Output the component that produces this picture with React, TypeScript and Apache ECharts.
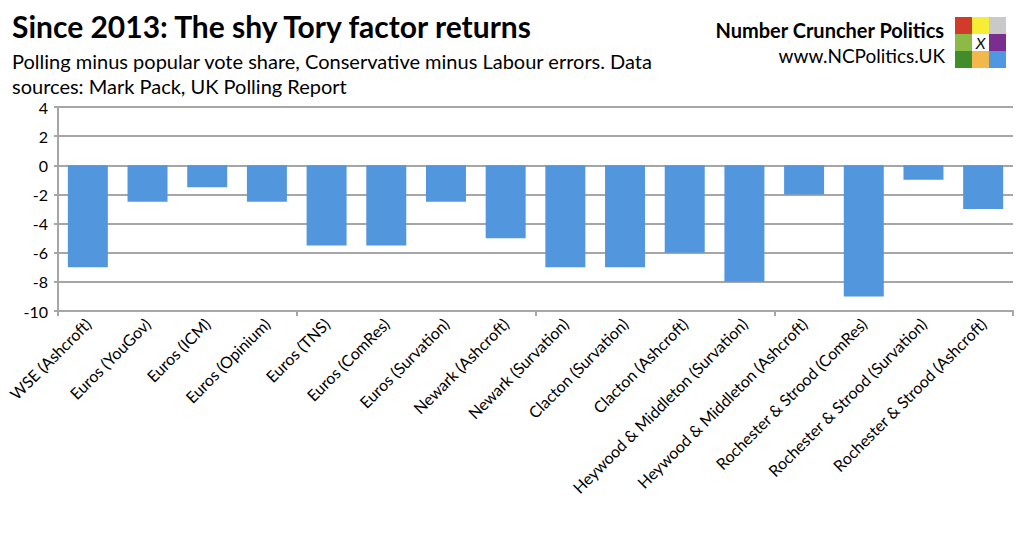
import { useEffect, useRef } from 'react';
import * as echarts from 'echarts';

const categories = [
    'WSE (Ashcroft)',
    'Euros (YouGov)',
    'Euros (ICM)',
    'Euros (Opinium)',
    'Euros (TNS)',
    'Euros (ComRes)',
    'Euros (Survation)',
    'Newark (Ashcroft)',
    'Newark (Survation)',
    'Clacton (Survation)',
    'Clacton (Ashcroft)',
    'Heywood & Middleton (Survation)',
    'Heywood & Middleton (Ashcroft)',
    'Rochester & Strood (ComRes)',
    'Rochester & Strood (Survation)',
    'Rochester & Strood (Ashcroft)'
];

const errors = [-7, -2.5, -1.5, -2.5, -5.5, -5.5, -2.5, -5, -7, -7, -6, -8, -2, -9, -1, -3];

const yTicks = [-10, -8, -6, -4, -2, 0, 2, 4];

// logo squares, row by row (centre one carries the X)
const logoColors = [
    '#d23a2c', '#f6ee34', '#c9c9c9',
    '#8dba45', '#ffffff', '#7a2e90',
    '#3f8e2b', '#f2b84c', '#4f97e2'
];

const FONT = 'Lato, "Open Sans", sans-serif';
const GRID = '#a6a6a6';

const App = () => {
    const chartRef = useRef<HTMLDivElement>(null);

    useEffect(() => {
        if (!chartRef.current) return;
        document.body.style.margin = '0';
        const chart = echarts.init(chartRef.current, null, { renderer: 'svg' });

        const cell = 17;
        const logoX = 955;
        const logoY = 17;
        const logoParts: any[] = logoColors.map((c, i) => ({
            type: 'rect',
            shape: { x: logoX + (i % 3) * cell, y: logoY + Math.floor(i / 3) * cell, width: cell, height: cell },
            style: { fill: c }
        }));
        logoParts.push({
            type: 'text',
            x: logoX + cell * 1.5,
            y: logoY + cell * 1.5,
            style: { text: 'X', fill: '#111', font: 'italic 16px ' + FONT, align: 'center', verticalAlign: 'middle' }
        });

        chart.setOption({
            animation: false,
            backgroundColor: '#ffffff',
            textStyle: { fontFamily: FONT },
            graphic: [
                {
                    type: 'text',
                    left: 12,
                    top: 11,
                    style: { text: 'Since 2013: The shy Tory factor returns', fill: '#000', font: 'bold 30px ' + FONT }
                },
                {
                    type: 'text',
                    left: 12,
                    top: 48,
                    style: {
                        text: 'Polling minus popular vote share, Conservative minus Labour errors. Data\nsources: Mark Pack, UK Polling Report',
                        fill: '#000',
                        font: '20px ' + FONT,
                        lineHeight: 25
                    }
                },
                {
                    type: 'text',
                    right: 79,
                    top: 20,
                    style: { text: 'Number Cruncher Politics', fill: '#000', font: 'bold 20px ' + FONT }
                },
                {
                    type: 'text',
                    right: 79,
                    top: 46,
                    style: { text: 'www.NCPolitics.UK', fill: '#000', font: '19px ' + FONT }
                },
                ...logoParts
            ],
            grid: { left: 58, right: 11, top: 107, bottom: 223, containLabel: false },
            xAxis: [
                {
                    type: 'category',
                    data: categories,
                    position: 'bottom',
                    axisLine: { show: false },
                    axisTick: { show: false },
                    axisLabel: {
                        interval: 0,
                        rotate: 45,
                        margin: 10,
                        color: '#000',
                        fontSize: 16,
                        fontFamily: FONT
                    }
                },
                {
                    type: 'category',
                    data: categories,
                    position: 'bottom',
                    axisLine: { show: true, onZero: true, lineStyle: { color: GRID, width: 2 } },
                    axisTick: { show: true, length: 5, lineStyle: { color: GRID, width: 2 } },
                    axisLabel: { show: false }
                }
            ],
            yAxis: {
                type: 'value',
                min: yTicks[0],
                max: yTicks[yTicks.length - 1],
                interval: 2,
                axisLine: { show: true, lineStyle: { color: GRID, width: 2 } },
                axisTick: { show: true, length: 4, lineStyle: { color: GRID, width: 2 } },
                splitLine: { show: true, lineStyle: { color: GRID, width: 2 } },
                axisLabel: { color: '#000', fontSize: 16, fontFamily: FONT, margin: 10 }
            },
            series: [
                {
                    type: 'bar',
                    data: errors,
                    xAxisIndex: 0,
                    barCategoryGap: '33%',
                    itemStyle: { color: '#5296de' }
                }
            ]
        });

        return () => {
            chart.dispose();
        };
    }, []);

    return <div ref={chartRef} style={{ width: 1024, height: 534 }} />;
};

export default App;
